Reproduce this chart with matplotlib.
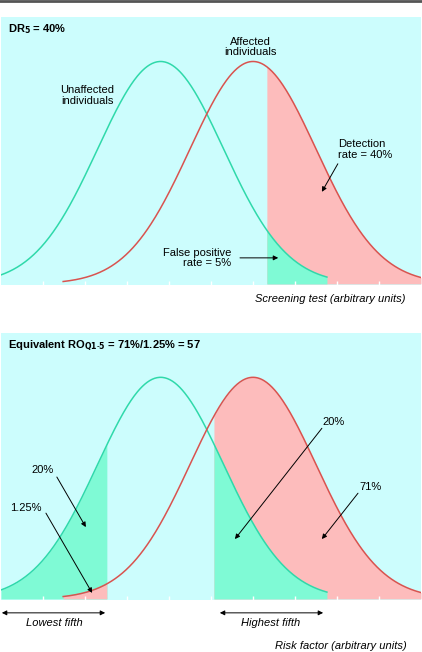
import matplotlib.pyplot as plt
import numpy as np

plt.rcParams['font.family'] = ['Liberation Sans Narrow', 'Liberation Sans', 'DejaVu Sans']

# distribution parameters (arbitrary units)
unaffected_mean = 3.8
affected_mean = 6.0
sd = 1.5
unaffected_range = (0.0, 7.76)
affected_range = (1.48, 10.0)

# cut-offs
screen_cut = 6.33          # 5% false positive rate
lowest_fifth = 2.52
highest_fifth = 5.07

bg = '#ccfdfd'
green_line = '#2fd9aa'
green_fill = '#7ffad5'
red_line = '#d9534f'
red_fill = '#fdbcbc'


def curve(mean, lo, hi):
    x = np.linspace(lo, hi, 400)
    return x, np.exp(-0.5 * ((x - mean) / sd) ** 2)


def fill(ax, mean, lo, hi, color):
    x, y = curve(mean, lo, hi)
    ax.fill_between(x, 0, y, color=color, lw=0, zorder=1)


def setup(ax):
    ax.set_facecolor(bg)
    ax.set_xlim(0, 10)
    ax.set_ylim(-0.005, 1.2)
    for s in ax.spines.values():
        s.set_visible(False)
    ax.set_xticks(range(1, 10))
    ax.set_xticklabels([])
    ax.set_yticks([])
    ax.tick_params(axis='x', direction='in', length=3, width=1, color='white')


def lines(ax):
    xg, yg = curve(unaffected_mean, *unaffected_range)
    xr, yr = curve(affected_mean, *affected_range)
    ax.plot(xg, yg, color=green_line, lw=1.1, zorder=3)
    ax.plot(xr, yr, color=red_line, lw=1.1, zorder=3)


arrow = dict(arrowstyle='-|>', color='black', lw=0.7, mutation_scale=7, shrinkA=0, shrinkB=0)
darrow = dict(arrowstyle='<|-|>', color='black', lw=0.7, mutation_scale=7, shrinkA=0, shrinkB=0)
fs = 8
ls = 1.05

fig = plt.figure(figsize=(4.22, 6.52), dpi=100)
fig.add_artist(plt.Line2D([0, 1], [0.9985, 0.9985], color='#555555', lw=2))

# ---- top panel: screening test
ax1 = fig.add_axes([1 / 422, 1 - 285 / 652, 420 / 422, 268 / 652])
setup(ax1)
fill(ax1, affected_mean, screen_cut, affected_range[1], red_fill)
fill(ax1, unaffected_mean, screen_cut, unaffected_range[1], green_fill)
lines(ax1)

ax1.text(0.17, 1.144, 'DR$_\\mathbf{5}$ = 40%', fontsize=fs, fontweight='bold', va='center')
ax1.text(5.93, 1.065, 'Affected\nindividuals', fontsize=fs, ha='center', va='center', linespacing=ls)
ax1.text(2.05, 0.847, 'Unaffected\nindividuals', fontsize=fs, ha='center', va='center', linespacing=ls)
ax1.text(8.02, 0.604, 'Detection\nrate = 40%', fontsize=fs, ha='left', va='center', linespacing=ls)
ax1.annotate('', xy=(7.64, 0.414), xytext=(8.02, 0.54), arrowprops=arrow)
ax1.text(5.48, 0.117, 'False positive\nrate = 5%', fontsize=fs, ha='right', va='center', linespacing=ls,
         multialignment='right')
ax1.annotate('', xy=(6.6, 0.117), xytext=(5.69, 0.117), arrowprops=arrow)
ax1.text(9.64, -0.068, 'Screening test (arbitrary units)', fontsize=fs, style='italic',
         ha='right', va='center', clip_on=False)

# ---- bottom panel: risk factor
ax2 = fig.add_axes([1 / 422, 1 - 600 / 652, 420 / 422, 267 / 652])
setup(ax2)
fill(ax2, unaffected_mean, unaffected_range[0], lowest_fifth, green_fill)
fill(ax2, affected_mean, affected_range[0], lowest_fifth, red_fill)
fill(ax2, affected_mean, highest_fifth, affected_range[1], red_fill)
fill(ax2, unaffected_mean, highest_fifth, unaffected_range[1], green_fill)
lines(ax2)

ax2.text(0.17, 1.144, 'Equivalent RO$_\\mathbf{Q1\\text{-}5}$ = 71%/1.25% = 57', fontsize=fs,
         fontweight='bold', va='center')
ax2.text(1.0, 0.581, '20%', fontsize=fs, ha='center', va='center')
ax2.annotate('', xy=(2.02, 0.324), xytext=(1.33, 0.55), arrowprops=arrow)
ax2.text(0.6, 0.41, '1.25%', fontsize=fs, ha='center', va='center')
ax2.annotate('', xy=(2.17, 0.027), xytext=(1.07, 0.387), arrowprops=arrow)
ax2.text(7.93, 0.797, '20%', fontsize=fs, ha='center', va='center')
ax2.annotate('', xy=(5.57, 0.27), xytext=(7.64, 0.77), arrowprops=arrow)
ax2.text(8.81, 0.505, '71%', fontsize=fs, ha='center', va='center')
ax2.annotate('', xy=(7.64, 0.27), xytext=(8.5, 0.477), arrowprops=arrow)

ax2.annotate('', xy=(2.48, -0.063), xytext=(0.02, -0.063), arrowprops=darrow, annotation_clip=False)
ax2.text(1.26, -0.108, 'Lowest fifth', fontsize=fs, style='italic', ha='center', va='center')
ax2.annotate('', xy=(7.67, -0.063), xytext=(5.21, -0.063), arrowprops=darrow, annotation_clip=False)
ax2.text(6.43, -0.108, 'Highest fifth', fontsize=fs, style='italic', ha='center', va='center')
ax2.text(9.67, -0.212, 'Risk factor (arbitrary units)', fontsize=fs, style='italic',
         ha='right', va='center', clip_on=False)

fig.savefig('out.png', dpi=100)
